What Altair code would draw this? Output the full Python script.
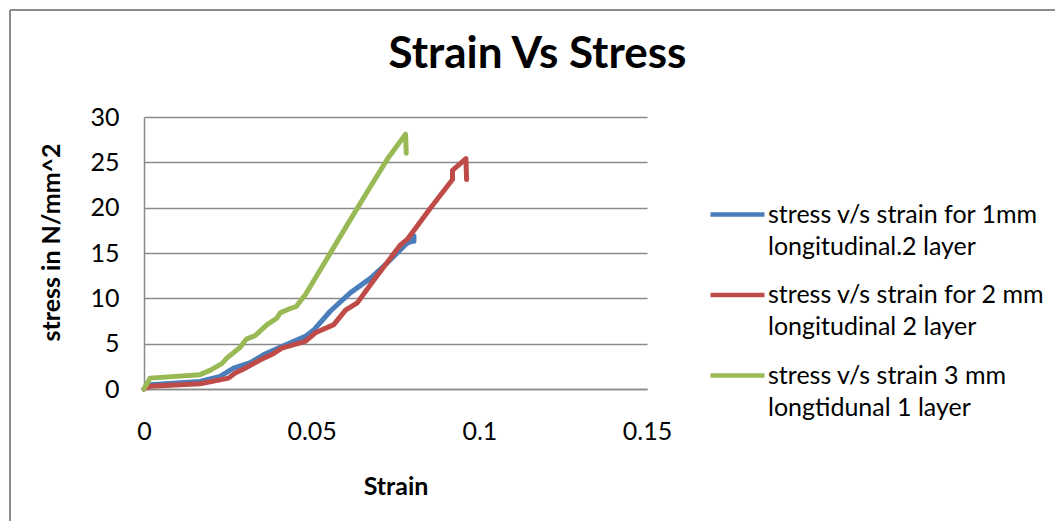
import altair as alt
import pandas as pd

series_line1 = [
    "stress v/s strain for 1mm",
    "stress v/s strain for 2 mm",
    "stress v/s strain 3 mm",
]
series_line2 = [
    "longitudinal.2 layer",
    "longitudinal 2 layer",
    "longtidunal 1 layer",
]
series_colors = ["#4A7EBB", "#BE4B48", "#98B954"]

strain_1mm = [0, 0.0018, 0.0167, 0.0227, 0.0267, 0.0317, 0.0357, 0.0406, 0.0481, 0.0506,
              0.0556, 0.0615, 0.0675, 0.0725, 0.0785, 0.0800, 0.0805, 0.0805]
stress_1mm = [0, 0.47, 0.84, 1.4, 2.3, 2.9, 3.8, 4.6, 5.8, 6.5,
              8.6, 10.6, 12.2, 13.9, 16.1, 16.3, 16.9, 16.3]

strain_2mm = [0, 0.0018, 0.0167, 0.0252, 0.0272, 0.0297, 0.0346, 0.0381, 0.0411, 0.0481,
              0.0511, 0.0566, 0.0601, 0.0636, 0.0685, 0.0765, 0.0785, 0.0855, 0.0920, 0.0920,
              0.0960, 0.0962]
stress_2mm = [0, 0.3, 0.58, 1.2, 1.76, 2.2, 3.2, 3.8, 4.5, 5.25,
              6.2, 7.1, 8.7, 9.5, 12.0, 15.9, 16.5, 20.0, 23.1, 24.1,
              25.4, 23.1]

strain_3mm = [0, 0.0018, 0.0167, 0.0197, 0.0232, 0.0247, 0.0287, 0.0305, 0.0332, 0.0367,
              0.0396, 0.0406, 0.0431, 0.0454, 0.0481, 0.0546, 0.0606, 0.0675, 0.0730, 0.0780,
              0.0782]
stress_3mm = [0, 1.2, 1.58, 2.05, 2.8, 3.4, 4.6, 5.5, 5.9, 7.1,
              7.8, 8.4, 8.8, 9.1, 10.4, 14.4, 18.1, 22.3, 25.6, 28.1,
              26.0]

x_ticks = [0, 0.05, 0.1, 0.15]
y_ticks = [0, 5, 10, 15, 20, 25, 30]

rows = []
for l1, l2, xs, ys in zip(series_line1, series_line2,
                          [strain_1mm, strain_2mm, strain_3mm],
                          [stress_1mm, stress_2mm, stress_3mm]):
    for i, (a, b) in enumerate(zip(xs, ys)):
        rows.append({"series": l1, "series2": l2, "strain": a, "stress": b, "idx": i})
df = pd.DataFrame(rows)

FONT = "Lato"
GRID = "#8A8A8A"

legend_common = dict(
    orient="none", legendX=564, title=None,
    symbolType="stroke", symbolSize=2916, symbolStrokeWidth=4.5,
    labelFont=FONT, labelFontSize=25, labelColor="black",
    labelLimit=500, labelOffset=1, rowPadding=37.5, padding=0,
)

lines = alt.Chart(df).mark_line(
    strokeWidth=5, strokeCap="round", strokeJoin="round"
).encode(
    x=alt.X("strain:Q",
            scale=alt.Scale(domain=[0, 0.15], nice=False, zero=False),
            axis=alt.Axis(values=x_ticks, labelExpr="toString(datum.value)",
                          title="Strain", grid=False, labelFlush=False,
                          ticks=False, labelPadding=30, titlePadding=30,
                          domainColor=GRID, domainWidth=1.5,
                          labelFont=FONT, labelFontSize=25, labelColor="black",
                          titleFont=FONT, titleFontSize=25, titleFontWeight="bold",
                          titleColor="black")),
    y=alt.Y("stress:Q",
            scale=alt.Scale(domain=[0, 30], nice=False),
            axis=alt.Axis(values=y_ticks, title="stress in N/mm^2", grid=True,
                          gridColor=GRID, gridWidth=1.5, ticks=False,
                          labelPadding=25, titlePadding=25, titleY=125,
                          domainColor=GRID, domainWidth=1.5,
                          labelFont=FONT, labelFontSize=25, labelColor="black",
                          titleFont=FONT, titleFontSize=25, titleFontWeight="bold",
                          titleColor="black")),
    color=alt.Color("series:N",
                    scale=alt.Scale(domain=series_line1, range=series_colors),
                    legend=alt.Legend(legendY=68, **legend_common)),
    opacity=alt.Opacity("series2:N",
                        scale=alt.Scale(domain=series_line2, range=[1, 1, 1]),
                        legend=alt.Legend(legendY=100,
                                          symbolStrokeColor="rgba(0,0,0,0)",
                                          symbolOpacity=0, **legend_common)),
    order="idx:Q",
)

frame = alt.Chart(df).mark_rule(color="#8C8C8C", strokeWidth=2).encode(
    x=alt.value(-134), x2=alt.value(1000), y=alt.value(-107)
)
frame_left = alt.Chart(df).mark_rule(color="#8C8C8C", strokeWidth=2).encode(
    x=alt.value(-134), y=alt.value(-107), y2=alt.value(500)
)

chart = alt.layer(frame, frame_left, lines).properties(
    width=503, height=272,
    autosize=alt.AutoSizeParams(type="none"),
    padding={"left": 136, "top": 109, "right": 408, "bottom": 132},
    title=alt.TitleParams("Strain Vs Stress", font=FONT, fontSize=44, fontWeight="bold",
                          color="black", anchor="middle", dx=142, offset=-103,
                          baseline="alphabetic"),
).configure_view(stroke=None)

chart.save("out.html", embed_options={"renderer": "svg", "actions": False})
